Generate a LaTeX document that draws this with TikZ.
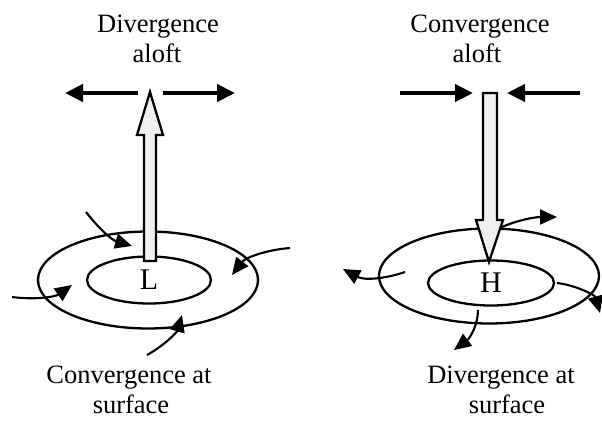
\documentclass[tikz,border=0pt]{standalone}
\usepackage{fontspec}
\setmainfont{Liberation Serif}
\usetikzlibrary{arrows.meta,shapes.geometric}

\begin{document}
\begin{tikzpicture}[x=1pt, y=-1pt,
        caption/.style={anchor=base, inner sep=0pt, font=\fontsize{26.5}{30}\selectfont},
        ring/.style={ellipse, draw, line width=2.3pt, inner sep=0pt, font=\fontsize{30}{32}\selectfont},
        wind/.style={line width=4.2pt, -{Triangle[length=18pt,width=17pt]}},
        flow/.style={line width=2.1pt, -{Triangle[length=17pt,width=15pt]}},
        column/.style={draw, line width=2.3pt, fill=gray!12, line join=miter}
        ]
      \useasboundingbox (0,0) rectangle (602,426);

      % low pressure: convergence at surface
      \node[caption] (divup) at (158,32) {Divergence};
      \node[caption] (aloftL) at (157,62) {aloft};
      \node[ring, minimum width=220pt, minimum height=97pt] (lowout) at (148,280) {};
      \node[ring, minimum width=124pt, minimum height=47pt] (lowin) at (149,280) {L};
      \draw[wind] (138,93) -- (65,93);
      \draw[wind] (163,93) -- (235,93);
      \draw[column] (144,261) -- (144,135) -- (137,135) -- (150,92) -- (163,135)
                    -- (156,135) -- (156,261) -- cycle;
      \draw[flow] (86,212) .. controls (100,230) and (112,240) .. (132,246);
      \draw[flow] (290,248) .. controls (265,250) and (245,258) .. (232,275);
      \draw[flow] (12,297) .. controls (35,300) and (55,297) .. (72,285);
      \draw[flow] (147,355) .. controls (165,345) and (177,332) .. (182,315);
      \node[caption] (convsf) at (129,383) {Convergence at};
      \node[caption] (surfL) at (131,413) {surface};

      % high pressure: divergence at surface
      \node[caption] (convup) at (480,32) {Convergence};
      \node[caption] (aloftH) at (477,62) {aloft};
      \node[ring, minimum width=220pt, minimum height=95pt] (highout) at (489,276) {};
      \node[ring, minimum width=126pt, minimum height=45pt] (highin) at (491,283) {H};
      \draw[wind] (400,93) -- (473,93);
      \draw[wind] (580,93) -- (507,93);
      \draw[column] (483,93) -- (497,93) -- (497,220) -- (503,220) -- (489,262)
                    -- (476,220) -- (483,220) -- cycle;
      \draw[flow] (502,227) .. controls (518,220) and (535,217) .. (557,217);
      \draw[flow] (405,272) .. controls (388,278) and (365,281) .. (343,269);
      \draw[flow] (557,283) .. controls (575,285) and (595,295) .. (600,313);
      \draw[flow] (478,310) .. controls (478,325) and (470,338) .. (454,350);
      \node[caption] (divsf) at (501,383) {Divergence at};
      \node[caption] (surfH) at (507,413) {surface};

    \end{tikzpicture}
\end{document}
